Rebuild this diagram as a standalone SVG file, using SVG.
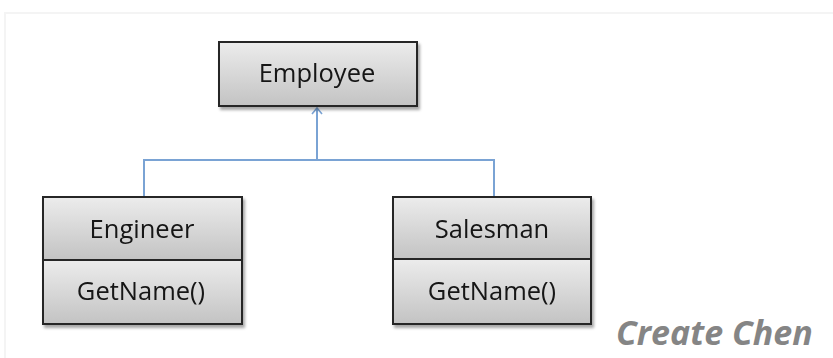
<svg xmlns="http://www.w3.org/2000/svg" width="833" height="358" viewBox="0 0 833 358">
  <style>
    .box { stroke: #262626; stroke-width: 2; fill: url(#boxFill); }
    .label { font-family: "Open Sans", "Liberation Sans", sans-serif; font-size: 25.5px; fill: #141414; text-anchor: middle; }
    .link { fill: none; stroke: #7aa3d4; stroke-width: 2; }
    .brand { font-family: "Open Sans", "Liberation Sans", sans-serif; font-size: 34px; font-weight: bold; font-style: italic; fill: #858585; }
  </style>
  <defs>
    <linearGradient id="boxFill" x1="0" y1="0" x2="0" y2="1">
      <stop offset="0" stop-color="#ececec"/>
      <stop offset="1" stop-color="#c3c3c3"/>
    </linearGradient>
    <filter id="shadow" x="-10%" y="-10%" width="130%" height="140%">
      <feGaussianBlur in="SourceAlpha" stdDeviation="1.5"/>
      <feOffset dx="1.5" dy="2.5" result="b"/>
      <feComponentTransfer><feFuncA type="linear" slope="0.35"/></feComponentTransfer>
      <feMerge><feMergeNode/><feMergeNode in="SourceGraphic"/></feMerge>
    </filter>
    <!-- open chevron arrowhead, tip at the end of the line -->
    <marker id="openArrow" markerWidth="12" markerHeight="12" refX="8" refY="6" orient="auto" markerUnits="userSpaceOnUse">
      <path d="M2,1 L8,6 L2,11" fill="none" stroke="#7aa3d4" stroke-width="1.6"/>
    </marker>
  </defs>

  <rect width="833" height="358" fill="#ffffff"/>
  <!-- faint page frame -->
  <path d="M5,358 L5,13 L833,13" fill="none" stroke="#f4f4f4" stroke-width="2"/>

  <g id="connectors">
    <path class="link" d="M144,197 L144,160 L494,160 L494,197"/>
    <path class="link" d="M317,160 L317,108" marker-end="url(#openArrow)"/>
  </g>

  <g id="employee" filter="url(#shadow)">
    <rect class="box" x="219" y="42" width="198" height="64"/>
    <text class="label" x="317" y="82">Employee</text>
  </g>

  <g id="engineer" filter="url(#shadow)">
    <rect class="box" x="43" y="197" width="199" height="63"/>
    <rect class="box" x="43" y="260" width="199" height="64"/>
    <text class="label" x="142" y="238">Engineer</text>
    <text class="label" x="141" y="300">GetName()</text>
  </g>

  <g id="salesman" filter="url(#shadow)">
    <rect class="box" x="393" y="197" width="198" height="62"/>
    <rect class="box" x="393" y="259" width="198" height="65"/>
    <text class="label" x="492" y="238">Salesman</text>
    <text class="label" x="492" y="300">GetName()</text>
  </g>

  <text class="brand" x="616" y="345">Create Chen</text>
</svg>
